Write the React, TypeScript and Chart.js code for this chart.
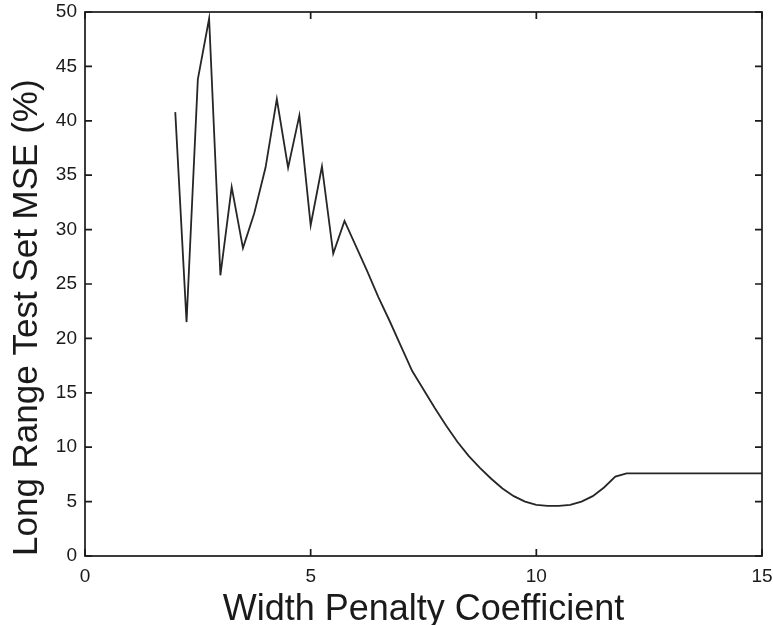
import React, { useEffect, useRef } from "react";
import { Chart, registerables } from "chart.js";

Chart.register(...registerables);

// Width penalty coefficient (x) and long range test set MSE in % (y)
const penaltyCoefficients = [
  2.0, 2.25, 2.5, 2.75, 3.0, 3.25, 3.5, 3.75, 4.0, 4.25, 4.5, 4.75, 5.0, 5.25,
  5.5, 5.75, 6.0, 6.25, 6.5, 6.75, 7.0, 7.25, 7.5, 7.75, 8.0, 8.25, 8.5, 8.75,
  9.0, 9.25, 9.5, 9.75, 10.0, 10.25, 10.5, 10.75, 11.0, 11.25, 11.5, 11.75,
  12.0, 13.0, 14.0, 15.0,
];
const mseValues = [
  40.8, 21.5, 43.8, 49.4, 25.8, 33.9, 28.3, 31.5, 35.7, 42.0, 35.7, 40.5, 30.4,
  35.8, 27.8, 30.8, 28.5, 26.2, 23.8, 21.6, 19.3, 17.0, 15.3, 13.6, 12.0, 10.5,
  9.2, 8.1, 7.1, 6.2, 5.5, 5.0, 4.7, 4.6, 4.6, 4.7, 5.0, 5.5, 6.3, 7.3, 7.6,
  7.6, 7.6, 7.6,
];
const xTickValues = [0, 5, 10, 15];
const yTickValues = [0, 5, 10, 15, 20, 25, 30, 35, 40, 45, 50];
const xAxisTitle = "Width Penalty Coefficient";
const yAxisTitle = "Long Range Test Set MSE (%)";

const FONT = "'Liberation Sans', Arial, Helvetica, sans-serif";
const INK = "#1a1a1a";

const framePlugin = {
  id: "matlabFrame",
  afterDraw(chart: any) {
    const { ctx, chartArea } = chart;
    const xs = chart.scales.x;
    const ys = chart.scales.y;
    const { left, right, top, bottom } = chartArea;
    const tl = 7;
    ctx.save();
    ctx.strokeStyle = INK;
    ctx.lineWidth = 1.7;
    ctx.strokeRect(left, top, right - left, bottom - top);
    ctx.beginPath();
    xTickValues.forEach((v) => {
      const px = xs.getPixelForValue(v);
      ctx.moveTo(px, bottom);
      ctx.lineTo(px, bottom - tl);
      ctx.moveTo(px, top);
      ctx.lineTo(px, top + tl);
    });
    yTickValues.forEach((v) => {
      const py = ys.getPixelForValue(v);
      ctx.moveTo(left, py);
      ctx.lineTo(left + tl, py);
      ctx.moveTo(right, py);
      ctx.lineTo(right - tl, py);
    });
    ctx.stroke();
    ctx.restore();
  },
};

export default function App() {
  const canvasRef = useRef<HTMLCanvasElement | null>(null);

  useEffect(() => {
    if (!canvasRef.current) return;
    const points = penaltyCoefficients.map((x, i) => ({ x, y: mseValues[i] }));
    const chart = new Chart(canvasRef.current, {
      type: "line",
      data: {
        datasets: [
          {
            data: points,
            borderColor: "#262626",
            borderWidth: 1.8,
            pointRadius: 0,
            tension: 0,
            fill: false,
          },
        ],
      },
      options: {
        animation: false,
        responsive: true,
        maintainAspectRatio: false,
        layout: { padding: { top: 12, right: 11, left: 0, bottom: 0 } },
        plugins: {
          legend: { display: false },
          tooltip: { enabled: false },
        },
        scales: {
          x: {
            type: "linear",
            min: 0,
            max: 15,
            afterBuildTicks: (scale: any) => {
              scale.ticks = xTickValues.map((v) => ({ value: v }));
            },
            afterFit: (scale: any) => {
              scale.height = 69;
              scale.paddingLeft = 0;
              scale.paddingRight = 0;
            },
            grid: { display: false, drawTicks: false },
            border: { display: false },
            ticks: {
              color: INK,
              padding: 9,
              font: { family: FONT, size: 19 },
              maxRotation: 0,
            },
            title: {
              display: true,
              text: xAxisTitle,
              color: INK,
              font: { family: FONT, size: 36, lineHeight: 0.85 },
              padding: { top: 0, bottom: 0 },
            },
          },
          y: {
            type: "linear",
            min: 0,
            max: 50,
            afterBuildTicks: (scale: any) => {
              scale.ticks = yTickValues.map((v) => ({ value: v }));
            },
            afterFit: (scale: any) => {
              scale.width = 85;
              scale.paddingTop = 0;
              scale.paddingBottom = 0;
            },
            grid: { display: false, drawTicks: false },
            border: { display: false },
            ticks: {
              color: INK,
              padding: 8,
              font: { family: FONT, size: 19 },
            },
            title: {
              display: true,
              text: yAxisTitle,
              align: "start",
              color: INK,
              font: { family: FONT, size: 35, lineHeight: 1 },
              padding: { top: 10, bottom: 0 },
            },
          },
        },
      },
      plugins: [framePlugin],
    } as any);
    return () => chart.destroy();
  }, []);

  return (
    <div
      style={{
        position: "absolute",
        left: 0,
        top: 0,
        width: 773,
        height: 625,
        background: "#ffffff",
      }}
    >
      <canvas ref={canvasRef} />
    </div>
  );
}
